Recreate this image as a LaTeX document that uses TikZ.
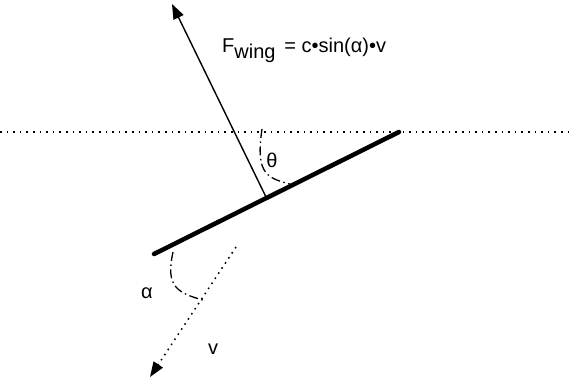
\documentclass[tikz,border=0pt]{standalone}
\usepackage{fontspec}
\setmainfont{Liberation Sans}
\usetikzlibrary{arrows.meta}
\begin{document}
\begin{tikzpicture}[x=1pt,y=-1pt,
  lbl/.style={font=\fontsize{20}{22}\selectfont, inner sep=0pt},
  wingline/.style={line width=4.5pt, line cap=round},
  forcearrow/.style={line width=1.4pt, -{Triangle[length=15pt,width=11pt]}},
  vel/.style={line width=1.5pt, dash pattern=on 1.6pt off 4.5pt, -{Triangle[length=15pt,width=11pt]}},
  horiz/.style={line width=1.3pt, dash pattern=on 1.6pt off 5pt},
  anglearc/.style={line width=1.3pt, dash pattern=on 9pt off 3.5pt on 1.5pt off 3.5pt}]
\useasboundingbox (0,0) rectangle (571,381);
\coordinate (hl) at (0,132);
\coordinate (hr) at (571,132);
\coordinate (wl) at (154,254);
\coordinate (wr) at (399,132);
\coordinate (fb) at (266,197);
\coordinate (ft) at (172,4);
\coordinate (vs) at (236,247);
\coordinate (ve) at (150,377);
\coordinate (ta) at (262,129);
\coordinate (tb) at (293,185);
\coordinate (aa) at (173,252);
\coordinate (ab) at (206,301);
\draw[horiz] (hl) -- (hr);
\draw[forcearrow] (fb) -- (ft);
\draw[wingline] (wl) -- (wr);
\draw[vel] (vs) -- (ve);
\draw[anglearc] (ta) .. controls (255,176) and (268,178) .. (tb);
\draw[anglearc] (aa) .. controls (165,288) and (178,293) .. (ab);
\node[lbl, anchor=base west] (F) at (222,52) {F\raisebox{-6pt}{wing}\, = c•sin(α)•v};
\node[lbl] (theta) at (272,160) {θ};
\node[lbl] (alpha) at (147,293) {α};
\node[lbl] (v) at (213,349) {v};
\end{tikzpicture}
\end{document}
